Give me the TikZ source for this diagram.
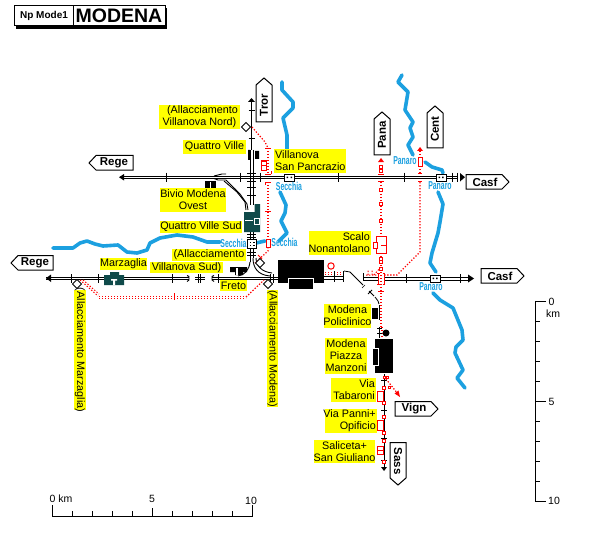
\documentclass[tikz,border=0pt]{standalone}
\usepackage{fontspec}
\setmainfont{Liberation Sans}
\usetikzlibrary{arrows.meta}
\definecolor{rv}{HTML}{1CA0E0}
\definecolor{tl}{HTML}{0F4A4A}
\definecolor{yl}{HTML}{FFFF00}
\tikzset{
 river/.style={rv,line width=3.6pt,line join=round,line cap=round},
 trk/.style={black,line width=.9pt},
 tick/.style={black,line width=.9pt},
 rtick/.style={red,line width=.9pt},
 rdot/.style={red,line width=1.2pt,dash pattern=on 1.3pt off 1.7pt},
 rbox/.style={red,line width=1pt,fill=white},
 flag/.style={draw=black,fill=white,line width=1pt},
 lab/.style={inner sep=0pt,font=\fontsize{10.8}{12}\selectfont,text=black},
 ftx/.style={font=\bfseries\fontsize{11.5}{12}\selectfont,inner sep=0pt},
 rvl/.style={text=rv,font=\bfseries\fontsize{11.5}{11}\selectfont,inner sep=0pt},
 sc/.style={font=\fontsize{10.5}{11}\selectfont,inner sep=0pt},
 dia/.style={draw=black,fill=white,line width=.8pt},
}
% x-left, y-top, x-right, y-bottom, name, text (centred)
\newcommand{\lblc}[6]{\fill[yl] (#1,#2) rectangle (#3,#4);\node[lab,align=center] (#5) at ({(#1+#3)/2},{(#2+#4)/2}) {#6};}
\newcommand{\lblr}[6]{\fill[yl] (#1,#2) rectangle (#3,#4);\node[lab,align=right,anchor=east] (#5) at (#3-1,{(#2+#4)/2}) {#6};}
\newcommand{\lbll}[6]{\fill[yl] (#1,#2) rectangle (#3,#4);\node[lab,align=left,anchor=west] (#5) at (#1+1,{(#2+#4)/2}) {#6};}
\begin{document}
\begin{tikzpicture}[x=1pt,y=-1pt]
\useasboundingbox (0,0) rectangle (606,551);
\fill[white] (0,0) rectangle (606,551);
% rivers
\draw[river] (53,248)--(73,248)--(80,243)--(87,241)--(95,244)--(103,246)--(118,245)--(127,252)--(137,253)--(147,250)--(150,243)--(160,238)--(177,235)--(193,237)--(207,242)--(220,242);
\draw[river] (256,243)--(265,241);
\draw[river] (282,82)--(282,90)--(293,102)--(293,108)--(283,118)--(287,135)--(287,150);
\draw[river] (280,192)--(286,205)--(285,213)--(281,221)--(287,233)--(279,241);
\draw[river] (402,75)--(398,82)--(408,92)--(405,110)--(413,122)--(410,128)--(413,137)--(408,145)--(413,155);
\draw[river] (425,162)--(432,167)--(442,170)--(443,173);
\draw[river] (438,192)--(443,204)--(440,222)--(438,233)--(432,253)--(430,263)--(436,272);
\draw[river] (433,293)--(440,300)--(453,308)--(462,330)--(463,340)--(456,347)--(455,353)--(463,370)--(457,378)--(465,388);
% top E-W track
\draw[trk] (122,176)--(284,176) (122,178.5)--(284,178.5) (294,176)--(436,176) (294,178.5)--(436,178.5) (446,176)--(458,176) (446,178.5)--(458,178.5);
\fill (119,177.2)--(124,174)--(124,180.5)--cycle;
\fill (465,177.2)--(460,173)--(460,181.5)--cycle;
\foreach \x in {166,240,260,338,404,452,457} \draw[tick] (\x,172.5)--(\x,182);
% N-S track at Quattro Ville
\draw[trk] (251.5,100)--(251.5,150);
\fill (251.5,98)--(248,102)--(255,102)--cycle;
\foreach \y in {110,138} \draw[tick] (248.5,\y)--(254.5,\y);
\draw[trk] (250,150)--(250,205) (253,150)--(253,205);
\foreach \y in {173,181,187,195} \draw[tick] (247,\y)--(256,\y);
\fill (248,150) rectangle (250,160) (255,151) rectangle (259,159);
% Bivio branch
\draw[trk] (214,176)--(222,174)--(226,174);
\draw[trk] (214,178.5)--(218,180)--(226,180)--(240,194)--(247,204)--(248,210);
\draw[trk] (224,181)--(237,192)--(245,202)--(246,210);
\draw[tick] (235,189)--(238,193);
\fill (205,181) rectangle (216,188);
\fill[white] (210,182) rectangle (211,188);
% teal building
\fill[tl] (244,212) rectangle (260,232) (254.5,204) rectangle (260,212);
\fill[white] (245,219.5) rectangle (253,221);
\draw[white,line width=.8pt,fill=tl] (254,218) rectangle (259,224);
% short track & secchia box
\draw[trk] (250,232)--(250,239) (253,232)--(253,239);
\foreach \y in {234,237} \draw[tick] (247,\y)--(256,\y);
\draw[black,line width=.9pt,fill=white] (247,239) rectangle (256,248);
\foreach \x in {249.5,253} \foreach \y in {241.5,244.5} \fill (\x,\y) rectangle +(1.5,1.5);
\draw[trk] (250,248)--(250,262) (253,248)--(253,258);
\foreach \y in {252,255} \draw[tick] (247,\y)--(256,\y);
% main W-E track
\draw[trk] (46,277)--(104,277) (46,279.5)--(104,279.5) (124,277)--(189,277) (124,279.5)--(189,279.5) (195,277)--(205,277) (195,279.5)--(205,279.5) (212,277)--(278,277) (212,279.5)--(278,279.5);
\fill (46,278.2)--(51,274.5)--(51,282)--cycle;
\foreach \x in {71,98,172,200,218,273,270} \draw[tick] (\x,274)--(\x,283);
\draw[tick] (198,274)--(198,283);
\draw[trk] (187,275.5)--(189,276.5)--(189,280)--(187,281.5);
\draw[trk] (214,275.5)--(212,276.5)--(212,280)--(214,281.5);
% Marzaglia
\fill[tl] (104,275) rectangle (124,285) (110,272) rectangle (119,278);
\fill[white] (111,279) rectangle (117,280.5) (113,280) rectangle (115,285);
% main station
\fill (278,260) rectangle (324,283);
\draw[white,line width=.9pt,fill=black] (288,278) rectangle (313,289);
\fill[white] (287,289) rectangle (314,291);
% red circle + east of station
\draw[red,line width=1pt,fill=white] (331,266) circle (3.2);
\draw[rdot,line width=1pt] (325,272)--(343,272) (325,274)--(343,274);
\draw[trk] (324,276)--(343,276) (324,279)--(343,279);
\foreach \x in {334,343} \draw[tick] (\x,271)--(\x,282);
% curve to Policlinico
\draw[trk,line width=.8pt] (344,271)--(350,272)--(363,285);
\draw[trk,line width=.8pt] (369,291)--(374,296);
\draw[trk,line width=.8pt] (375,297)--(378,301)--(379,304);
\draw[trk,line width=.6pt] (362,288)--(365,285);
\draw[trk] (368,294)--(372,290);
% policlinico
\fill (372,308) rectangle (378,319);
\draw[trk] (379.5,305)--(379.5,320);
% east track
\draw[trk] (363,273)--(363,280);
\draw[trk] (363,277)--(378,277) (363,280)--(378,280) (384,277)--(430,277) (384,280)--(430,280) (440,277)--(468,277) (440,280)--(468,280);
\fill (474,278.5)--(468,274.5)--(468,282.5)--cycle;
\foreach \x in {406,460} \draw[tick] (\x,274)--(\x,283);
% red line Pana
\draw[rdot] (381,166)--(381,174);
\draw[rdot] (381,182)--(381,236);
\draw[rdot] (381,253)--(381,268);
\draw[rdot] (381,272)--(381,327);
\draw[rdot] (382,327)--(382,339);
\fill[red] (381,158)--(378,162)--(384,162)--cycle;
\foreach \y in {167,171,190,204,221,259,262} \draw[rbox,line width=.9pt] (379.7,\y-1.3) rectangle +(2.6,2.6);
\draw[rbox,line width=.9pt] (379.7,267) rectangle +(2.6,3);
\draw[rtick] (378,174)--(384,174) (378,181)--(384,181) (378,291)--(384,291);
\draw[rtick] (378,273)--(378,284) (377,273)--(379.5,273) (377,284)--(379.5,284);
\draw[rtick] (384,273)--(384,284) (382.5,273)--(385,273) (382.5,284)--(385,284);
% Scalo Nonantolano station
\draw[rbox] (376,236) rectangle (386,253);
\draw[red,line width=1pt] (381,245)--(386,245);
\draw[rbox] (373,242) rectangle (377,248);
% Cent red line
\fill[red] (420,147)--(417,151)--(423,151)--cycle;
\draw[rdot] (420,151)--(420,158);
\draw[rbox] (418,158) rectangle (422,166);
\draw[rdot] (420,166)--(420,173);
\draw[rtick] (418,173.5)--(422,173.5) (418,181)--(422,181);
\draw[rdot] (420,182)--(420,252)--(397,275)--(385,275);
% small dots at east
\draw[rdot,line width=1pt] (366,275)--(377,275) (368,275)--(368,270) (372,275)--(372,270) (374,275)--(380,268);
% Tror red line
\draw[rdot] (252,127)--(265,142)--(268,148);
\draw[rdot] (268,148)--(268,174);
\draw[rtick] (265,148)--(271,148) (265,174)--(271,174) (271,174)--(271,171);
\draw[rtick] (265,182)--(271,182) (265,182)--(265,185);
\draw[rdot] (268,182)--(268,239);
\draw[rtick] (265,211)--(271,211);
\draw[rbox] (261,161) rectangle (266,170);
\draw[red,line width=1pt] (261,165.5)--(266,165.5);
\draw[rbox] (266.5,239) rectangle (270.5,247);
\draw[rdot] (268,247)--(268,251)--(255,263);
\draw[rtick] (258,255)--(262,259);
% red dotted from Marzaglia and Modena
\draw[rdot,line width=1pt] (80,280)--(98,296);
\draw[rdot,line width=1pt] (83,280)--(99,294);
\draw[rdot,line width=1pt] (99,296)--(246,296) (99,298)--(246,298);
\draw[rtick] (174,293)--(174,300);
\draw[rdot] (246,297)--(264,280);
% yellow labels
\lblc{159}{105}{240}{129}{l1}{\ \ (Allacciamento\\Villanova Nord)}
\lblc{183}{140}{246}{154}{l2}{Quattro Ville}
\lbll{274}{149}{346}{173}{l3}{Villanova\\San Pancrazio}
\lblc{160}{188}{226}{212}{l4}{Bivio Modena\\Ovest}
\lblc{160}{221}{242}{233}{l5}{Quattro Ville Sud}
\lblc{172}{249}{246}{261}{l6a}{(Allacciamento}
\lblc{150}{262}{223}{273}{l6b}{Villanova Sud)}
\lblc{220}{280}{247}{291}{l7}{Freto}
\lblc{100}{258}{147}{270}{l8}{Marzaglia}
\lblr{309}{231}{371}{255}{l9}{Scalo\\Nonantolano}
\lblc{324}{304}{371}{328}{l10}{Modena\\Policlinico}
\lblc{325}{338}{367}{374}{l11}{Modena\\Piazza\\Manzoni}
\lblr{331}{378}{376}{402}{l12}{Via\\Tabaroni}
\lblr{325}{409}{377}{433}{l13}{Via Panni+\\Opificio\ }
\lblc{314}{440}{375}{463}{l14}{Saliceta+\\San Giuliano}
\fill[yl] (74,290) rectangle (86,410);
\node[lab,rotate=-90] (l15) at (80,350) {(Allacciamento Marzaglia)};
\fill[yl] (267,290) rectangle (278,407);
\node[lab,rotate=-90] (l16) at (272.5,348.5) {(Allacciamento Modena)};
% Freto
\fill (230,267) rectangle (247,272) (235,272) rectangle (243,275);
\fill[white] (236,268) rectangle (238,275);
% junction curves to main line
\draw[trk] (250,262) .. controls (249,270) and (245,275) .. (238,276);
\draw[trk] (253,258) .. controls (253,268) and (258,275) .. (270,276);
\draw[trk] (256,258) .. controls (256,266) and (262,272) .. (272,273);
% diamonds
\draw[dia] (246,122.5)--(250.5,127)--(246,131.5)--(241.5,127)--cycle;
\draw[dia] (77,279.5)--(81.5,284)--(77,288.5)--(72.5,284)--cycle;
\draw[dia] (260,258.5)--(264.5,263)--(260,267.5)--(255.5,263)--cycle;
\draw[dia] (268,279.5)--(272.5,284)--(268,288.5)--(263.5,284)--cycle;
% station boxes
\draw[black,line width=.9pt,fill=white] (284,174) rectangle (294,181);
\fill (286.5,176.5) rectangle +(1.5,1.5) (290.5,176.5) rectangle +(1.5,1.5);
\draw[black,line width=.9pt,fill=white] (436,174) rectangle (446,181);
\fill (438.5,176.5) rectangle +(1.5,1.5) (442,176.5) rectangle +(1.5,1.5);
\draw[black,line width=.9pt,fill=white] (430,275) rectangle (440,282);
\fill (432.5,277.5) rectangle +(1.5,1.5) (436,277.5) rectangle +(1.5,1.5);
% south line
\draw[trk] (379.5,327)--(379.5,338);
\draw[tick] (377,328)--(382,328) (377,333)--(382,333);
\fill (386,333) circle (3.5);
\fill (375,339) rectangle (393,373);
\draw[white,line width=1pt,fill=black] (372,348) rectangle (378,365);
\draw[trk] (384,374)--(384,468);
\fill (384,471)--(381,467)--(387,467)--cycle;
\foreach \y in {380,410,438,460} \draw[tick] (381,\y)--(387,\y);
\foreach \y in {388,403,417,433,441,462} \draw[rbox,line width=.9pt] (382.8,\y-1.2) rectangle +(2.4,2.4);
\draw[rbox,line width=.9pt] (383,376) rectangle +(2.5,2.5);
\draw[rbox,line width=.9pt] (386,376) rectangle +(2.5,2.5);
\draw[rbox] (377,391) rectangle (383,401);
\draw[rbox] (377,420) rectangle (383,430);
\draw[rbox] (377,446) rectangle (383,454);
\draw[red,line width=1pt] (377,450)--(383,450);
\draw[rdot] (386,379)--(398,394);
\draw[rbox,line width=.9pt] (388,386) rectangle +(2.5,2.5);
\fill[red] (400,397)--(394.5,393.5)--(398.5,390.5)--cycle;
% flags
\draw[flag] (89,163)--(96,155.5)--(133,155.5)--(133,170)--(96,170)--cycle;
\node[ftx] (flagregetop) at (114,163) {Rege};
\draw[flag] (11,263)--(18,255.5)--(53,255.5)--(53,270)--(18,270)--cycle;
\node[ftx] (flagrege) at (35,263) {Rege};
\draw[flag] (466,174.5)--(502,174.5)--(509,182)--(502,189)--(466,189)--cycle;
\node[ftx] (flagcasftop) at (485,182) {Casf};
\draw[flag] (481,268.5)--(517,268.5)--(524,276)--(517,283)--(481,283)--cycle;
\node[ftx] (flagcasf) at (500,276) {Casf};
\draw[flag] (395,401.5)--(431,401.5)--(438,409)--(431,416)--(395,416)--cycle;
\node[ftx] (flagvign) at (414,409) {Vign};
\draw[flag] (256,85)--(264,78)--(272,85)--(272,122)--(256,122)--cycle;
\node[ftx,rotate=90] (flagtror) at (264,105) {Tror};
\draw[flag] (374,119)--(382,112)--(390,119)--(390,155)--(374,155)--cycle;
\node[ftx,rotate=90] (flagpana) at (382,135) {Pana};
\draw[flag] (427,113)--(435,106)--(443,113)--(443,148)--(427,148)--cycle;
\node[ftx,rotate=90] (flagcent) at (435,129) {Cent};
\draw[flag] (390,442.5)--(406,442.5)--(406,478)--(398,485)--(390,478)--cycle;
\node[ftx,rotate=-90] (flagsass) at (398,461) {Sass};
% river labels
\node[rvl] (s1) at (233.5,243) {\scalebox{.6}[1]{Secchia}};
\node[rvl] (s2) at (284.5,242) {\scalebox{.6}[1]{Secchia}};
\node[rvl] (s3) at (289,186) {\scalebox{.6}[1]{Secchia}};
\node[rvl] (p1) at (405,161) {\scalebox{.6}[1]{Panaro}};
\node[rvl] (p2) at (440,186) {\scalebox{.6}[1]{Panaro}};
\node[rvl] (p3) at (431,287) {\scalebox{.6}[1]{Panaro}};
% title
\fill (16,8) rectangle (167,29);
\draw[black,line width=1pt,fill=white] (14.5,5.5) rectangle (165,26);
\draw[black,line width=1pt] (73,5.5)--(73,26);
\node[font=\bfseries\fontsize{10}{10}\selectfont,inner sep=0pt] (t1) at (44,16) {Np Mode1};
\node[font=\bfseries\fontsize{19.5}{20}\selectfont,inner sep=0pt] (t2) at (119,15.5) {MODENA};
% horizontal scale
\draw[black,line width=1pt] (52,505)--(52,516)--(252,516)--(252,505);
\foreach \x in {72,92,112,132,172,192,212,232} \draw[black,line width=1pt] (\x,511)--(\x,516);
\draw[black,line width=1pt] (152,508)--(152,516);
\node[sc] (h0) at (61,498.5) {0 km};
\node[sc] (h5) at (152,498.5) {5};
\node[sc] (h10) at (251,501) {10};
% vertical scale
\draw[black,line width=1pt] (546,301)--(535,301)--(535,501)--(546,501);
\foreach \y in {321,341,361,381,421,441,461,481} \draw[black,line width=1pt] (535,\y)--(540,\y);
\draw[black,line width=1pt] (535,401)--(546,401);
\node[sc] (v0) at (551.5,302) {0};
\node[sc] (vk) at (553,314) {km};
\node[sc] (v5) at (551.5,402) {5};
\node[sc] (v10) at (554,501) {10};
\end{tikzpicture}
\end{document}
